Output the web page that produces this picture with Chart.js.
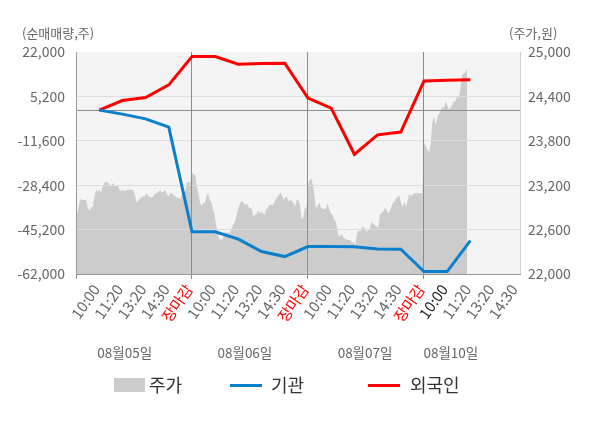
<!DOCTYPE html>
<html><head><meta charset="utf-8">
<script src="https://cdn.jsdelivr.net/npm/chart.js@4.4.0/dist/chart.umd.min.js"></script>
<style>html,body{margin:0;padding:0;background:#fff;}#wrap{width:600px;height:428px;position:relative;}</style>
</head><body><div id="wrap"><canvas id="c"></canvas></div>
<script>
const xTickLabels = ['10:00','11:20','13:20','14:30','장마감','10:00','11:20','13:20','14:30','장마감','10:00','11:20','13:20','14:30','장마감','10:00','11:20','13:20','14:30'];
const dayLabels = ['08월05일','08월06일','08월07일','08월10일'];
const seriesNames = ['주가','기관','외국인'];
const leftTicks = [-62000,-45200,-28400,-11600,5200,22000];
const rightTicks = [22000,22600,23200,23800,24400,25000];
const institutionNet = [0,-1510,-3290,-6430,-46000,-46000,-48800,-53500,-55400,-51600,-51600,-51700,-52500,-52600,-61070,-61070,-49340];
const foreignNet = [0,3630,4770,9570,20280,20280,17400,17630,17780,4540,760,-16700,-9350,-8300,11000,11350,11470];
const priceDay1 = [22890,22830,22960,23020,23000,23000,23000,22900,22850,22900,22910,23050,23140,23110,23140,23090,23190,23240,23240,23240,23200,23200,23230,23190,23190,23190,23140,23110,23140,23110,23140,23140,23140,23140,23130,23070,22970,22990,23020,23030,23050,23050,23100,23050,23040,23030,23050,23090,23090,23100,23140,23100,23110,23140,23080,23050,23090,23090,23070,23050,23030,23030,23010,23070,23090,23140,23240,23240,23240];
const priceDay2 = [23380,23340,23340,23180,23090,22960,22920,22960,22960,23050,23090,23000,22980,22870,22800,22660,22570,22460,22480,22460,22570,22550,22570,22540,22590,22640,22680,22730,22820,22910,22960,22990,22960,22930,22960,22910,22890,22890,22780,22800,22800,22860,22820,22840,22820,22800,22870,22890,22930,22940,22930,22960,23010,23040,23070,23100,23050,23000,23040,23040,22980,23000,22990,22960,22910,23000,23000,22930,22750,22750,22890,22890];
const priceDay3 = [23200,23270,23290,23200,23050,22870,22930,22960,22890,22890,22870,22890,22960,22870,22820,22800,22730,22710,22590,22500,22530,22530,22480,22480,22460,22460,22460,22420,22440,22390,22550,22590,22570,22640,22640,22590,22570,22590,22620,22710,22680,22660,22640,22620,22800,22820,22840,22890,22870,22820,22840,22910,22960,22980,23020,23050,23050,22960,22910,22980,22910,23000,23090,23050,23070,23090,23090,23090,23090,23090,23090];
const priceDay4 = [23770,23740,23680,23650,23740,24040,24130,24010,24100,24170,24190,24260,24240,24330,24280,24220,24240,24280,24330,24330,24400,24370,24510,24690,24710,24730,24780];

const FONT = "'Noto Sans CJK KR','Noto Sans',sans-serif";
const SLOTS = 5; // label slots per trading day
function dayPoints(arr, day, n) {
  const N = n || arr.length;
  return arr.map((v, j) => ({x: day * SLOTS + SLOTS * j / N, y: v}));
}
const pricePts = [].concat(
  dayPoints(priceDay1, 0), dayPoints(priceDay2, 1), dayPoints(priceDay3, 2), dayPoints(priceDay4, 3, 70)
);
const instPts = institutionNet.map((v, i) => ({x: i + 1, y: v}));
const forPts = foreignNet.map((v, i) => ({x: i + 1, y: v}));
const fmt = v => v.toLocaleString('en-US');

const decor = {
  id: 'decor',
  beforeDraw(chart) {
    const {ctx, chartArea: a} = chart;
    ctx.save();
    ctx.fillStyle = '#f4f4f4';
    ctx.fillRect(a.left, a.top, a.right - a.left, a.bottom - a.top);
    ctx.restore();
  },
  afterDatasetDraw(chart, args) {
    if (args.meta.yAxisID === 'y2') {
      chart.scales.y.drawGrid(chart.chartArea);
      chart.scales.x.drawGrid(chart.chartArea);
      chart.scales.y.drawBorder();
      chart.scales.x.drawBorder();
    }
  },
  afterDraw(chart) {
    const {ctx} = chart;
    const xs = chart.scales.x;
    ctx.save();
    ctx.fillStyle = '#666';
    ctx.font = '13px ' + FONT;
    ctx.textBaseline = 'middle';
    ctx.textAlign = 'left';
    ctx.fillText('(순매매량,주)', 22, 33);
    ctx.fillText('(주가,원)', 509, 33);
    // day labels
    ctx.font = '13.5px ' + FONT;
    ctx.textAlign = 'center';
    const dayCenters = [2.1, 7.28, 12.46, 16.16];
    dayLabels.forEach((d, i) => ctx.fillText(d, xs.getPixelForValue(dayCenters[i]), 353));
    // legend
    const ds = chart.data.datasets;
    const ly = 385.5;
    ctx.font = '18px ' + FONT;
    ctx.textAlign = 'left';
    ctx.fillStyle = ds[2].backgroundColor;
    ctx.fillRect(114, 378, 31, 14);
    ctx.fillStyle = '#333';
    ctx.fillText(seriesNames[0], 149, ly);
    ctx.lineWidth = 3;
    ctx.strokeStyle = ds[0].borderColor;
    ctx.beginPath(); ctx.moveTo(230, ly); ctx.lineTo(262, ly); ctx.stroke();
    ctx.fillText(seriesNames[1], 271, ly);
    ctx.strokeStyle = ds[1].borderColor;
    ctx.beginPath(); ctx.moveTo(368, ly); ctx.lineTo(400, ly); ctx.stroke();
    ctx.fillText(seriesNames[2], 410, ly);
    ctx.restore();
  }
};

new Chart(document.getElementById('c'), {
  type: 'line',
  data: {
    datasets: [
      {label: seriesNames[1], data: instPts, yAxisID: 'y', borderColor: '#0a80cc', borderWidth: 3, pointRadius: 0, fill: false, tension: 0},
      {label: seriesNames[2], data: forPts, yAxisID: 'y', borderColor: '#ff0000', borderWidth: 3, pointRadius: 0, fill: false, tension: 0},
      {label: seriesNames[0], data: pricePts, yAxisID: 'y2', borderWidth: 0, borderColor: 'rgba(0,0,0,0)', backgroundColor: '#cccccc', pointRadius: 0, fill: 'start', tension: 0}
    ]
  },
  options: {
    responsive: true, maintainAspectRatio: false, animation: false,
    layout: {padding: {top: 52, left: 0, right: 0, bottom: 0}},
    plugins: {legend: {display: false}, tooltip: {enabled: false}},
    scales: {
      x: {
        type: 'linear', min: 0, max: 19.14,
        afterBuildTicks: ax => { ax.ticks = Array.from({length: xTickLabels.length + 1}, (_, i) => ({value: i})); },
        afterFit: ax => { ax.height = 154; },
        ticks: {
          autoSkip: false, minRotation: 55, maxRotation: 55, padding: 2, labelOffset: -3,
          font: {size: 15, family: FONT},
          callback: (v, i) => i === 0 ? '' : xTickLabels[i - 1],
          color: c => { const l = xTickLabels[c.index - 1]; return l === '장마감' ? '#ff0000' : (c.index === 16 ? '#222' : '#666'); }
        },
        grid: {
          color: c => (c.tick && c.tick.value % SLOTS === 0) ? '#8c8c8c' : 'rgba(0,0,0,0)',
          tickColor: c => (c.tick && c.tick.value % SLOTS === 0) ? '#8c8c8c' : 'rgba(0,0,0,0)',
          tickLength: 5, lineWidth: 1
        },
        border: {color: '#999', width: 1}
      },
      y: {
        position: 'left', min: -62000, max: 22000,
        afterBuildTicks: ax => { ax.ticks = leftTicks.concat([0]).sort((a, b) => a - b).map(v => ({value: v})); },
        afterFit: ax => { ax.width = 76; },
        ticks: {
          padding: 11, font: {size: 14, family: FONT}, color: '#666',
          callback: v => leftTicks.includes(v) ? fmt(v) : ''
        },
        grid: {
          drawTicks: false, lineWidth: 1,
          color: c => { const v = c.tick ? c.tick.value : null; if (v === 0) return '#8c8c8c'; if (v === 22000 || v === -62000) return 'rgba(0,0,0,0)'; return '#dcdcdc'; }
        },
        border: {color: '#999', width: 1}
      },
      y2: {
        position: 'right', min: 22000, max: 25000,
        afterBuildTicks: ax => { ax.ticks = rightTicks.map(v => ({value: v})); },
        afterFit: ax => { ax.width = 80; },
        ticks: {padding: 8, font: {size: 14, family: FONT}, color: '#666', callback: v => fmt(v)},
        grid: {display: false, drawTicks: false},
        border: {color: '#d0d0d0', width: 1}
      }
    }
  },
  plugins: [decor]
});
</script>
</body></html>
